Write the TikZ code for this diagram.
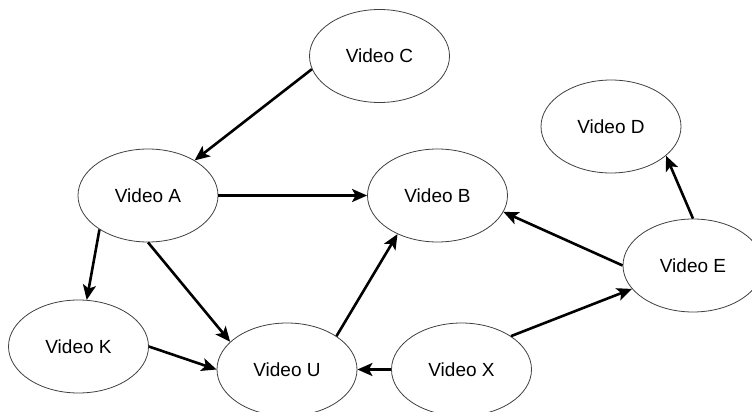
\documentclass[tikz,border=0pt]{standalone}
\usepackage{fontspec}
\setmainfont{Liberation Sans}
\usetikzlibrary{shapes.geometric,arrows.meta}
\begin{document}
\begin{tikzpicture}[x=1pt,y=-1pt,
  vid/.style={ellipse,draw=black!75,line width=0.8pt,minimum width=140pt,minimum height=93pt,inner sep=0pt,font=\fontsize{19}{22}\selectfont},
  edge/.style={line width=2.6pt,-{Stealth[length=15pt,width=13pt,inset=3.5pt]}}]
\useasboundingbox (0,0) rectangle (752,412);
\node[vid] (C) at (379.5,56) {Video C};
\node[vid] (A) at (148,195.5) {Video A};
\node[vid] (B) at (437.5,195.5) {Video B};
\node[vid] (D) at (611,126.5) {Video D};
\node[vid] (E) at (693,265.5) {Video E};
\node[vid] (K) at (78.5,346.5) {Video K};
\node[vid] (U) at (287,369.5) {Video U};
\node[vid] (X) at (461.5,369.5) {Video X};
\draw[edge] (C.191) -- (A.37);
\draw[edge] (A.0) -- (B.180);
\draw[edge] (A.215) -- (K.80);
\draw[edge] (A.270) -- (U.154);
\draw[edge] (K.0) -- (U.180);
\draw[edge] (U.34) -- (B.224);
\draw[edge] (X.180) -- (U.0);
\draw[edge] (X.34) -- (E.201);
\draw[edge] (E.180) -- (B.346);
\draw[edge] (E.90) -- (D.332);
\end{tikzpicture}
\end{document}
